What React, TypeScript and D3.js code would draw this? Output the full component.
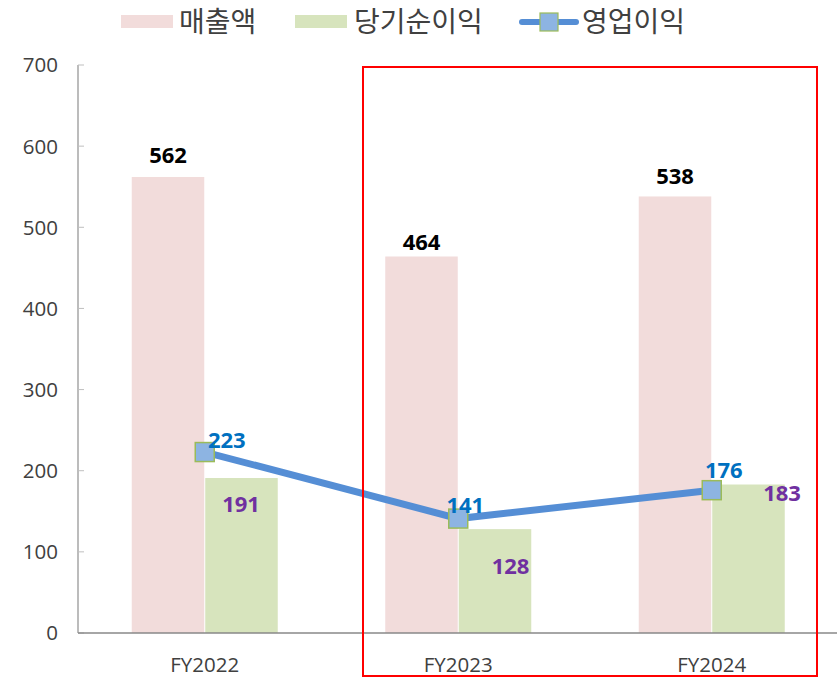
import React from "react";
import * as d3 from "d3";

const categories = ["FY2022", "FY2023", "FY2024"];
const sales = [562, 464, 538];
const netIncome = [191, 128, 183];
const opIncome = [223, 141, 176];
const yTicks = [0, 100, 200, 300, 400, 500, 600, 700];
const seriesNames = ["매출액", "당기순이익", "영업이익"];

// label offsets (px) relative to anchor points
const salesLabelOffsets = [-14, -6, -12];
const opLabelOffsets = [[22, -12], [7, -14], [12, -20]];
const netLabelOffsets = [[0, 26], [16, 37], [34, 9]];

const W = 837;
const H = 677;
const margin = { left: 78, right: -1.5, top: 65, bottom: 44 };
const FONT = "'Open Sans', 'Noto Sans CJK KR', sans-serif";
const KFONT = "'Noto Sans CJK KR', 'Noto Sans', sans-serif";

export default function App() {
  const x = d3.scaleBand<string>().domain(categories).range([margin.left, W - margin.right]).paddingInner(0).paddingOuter(0);
  const y = d3.scaleLinear().domain([0, 700]).range([H - margin.bottom, margin.top]);
  const bw = 72.5;
  const cx = (c: string) => (x(c) as number) + x.bandwidth() / 2;
  const line = d3.line<number>().x((_, i) => cx(categories[i])).y((d) => y(d));

  return (
    <svg width={W} height={H} style={{ position: "absolute", left: 0, top: 0, background: "#fff" }}>
      {/* bars */}
      {categories.map((c, i) => (
        <g key={c}>
          <rect x={cx(c) - bw - 0.5} y={y(sales[i])} width={bw} height={y(0) - y(sales[i])} fill="#F2DCDB" />
          <rect x={cx(c) + 0.5} y={y(netIncome[i])} width={bw} height={y(0) - y(netIncome[i])} fill="#D7E4BD" />
          <text x={cx(c) - bw / 2 - 0.5} y={y(sales[i]) + salesLabelOffsets[i]} textAnchor="middle" fontFamily={FONT} fontWeight={700} fontSize={22} fill="#000">{sales[i]}</text>
        </g>
      ))}
      {/* axes */}
      <line x1={margin.left} x2={margin.left} y1={y(700)} y2={y(0)} stroke="#A6A6A6" strokeWidth={1.5} />
      {yTicks.map((t) => (
        <g key={t}>
          <line x1={margin.left} x2={margin.left + 6} y1={y(t)} y2={y(t)} stroke="#BFBFBF" strokeWidth={1} />
          <text x={58} y={y(t)} dy="0.36em" textAnchor="end" fontFamily={FONT} fontSize={20.5} fill="#404040">{t}</text>
        </g>
      ))}
      <line x1={margin.left} x2={W} y1={y(0)} y2={y(0)} stroke="#888" strokeWidth={1.5} />
      {categories.map((c) => (
        <text key={c} x={cx(c)} y={672} textAnchor="middle" fontFamily={FONT} fontSize={20.5} fill="#404040">{c}</text>
      ))}
      {/* line */}
      <path d={line(opIncome) || ""} fill="none" stroke="#558ED5" strokeWidth={7} />
      {opIncome.map((v, i) => (
        <rect key={i} x={cx(categories[i]) - 9.5} y={y(v) - 9.5} width={19} height={19} fill="#8DB4E2" stroke="#9BBB59" strokeWidth={1.5} />
      ))}
      {netIncome.map((v, i) => (
        <text key={"n" + i} x={cx(categories[i]) + bw / 2 + netLabelOffsets[i][0]} y={y(v) + netLabelOffsets[i][1]} dy="0.36em" textAnchor="middle" fontFamily={FONT} fontWeight={700} fontSize={22} fill="#7030A0">{v}</text>
      ))}
      {opIncome.map((v, i) => (
        <text key={"o" + i} x={cx(categories[i]) + opLabelOffsets[i][0]} y={y(v) + opLabelOffsets[i][1]} dy="0.36em" textAnchor="middle" fontFamily={FONT} fontWeight={700} fontSize={22} fill="#0070C0">{v}</text>
      ))}
      {/* red box */}
      <rect x={363} y={67} width={454} height={609} fill="none" stroke="#FF0000" strokeWidth={2} />
      {/* legend */}
      <rect x={121} y={15} width={52} height={13} fill="#F2DCDB" />
      <text x={179} y={22} dy="0.37em" fontFamily={KFONT} fontSize={28} fill="#404040">{seriesNames[0]}</text>
      <rect x={295} y={15} width={52} height={13} fill="#D7E4BD" />
      <text x={354} y={22} dy="0.37em" fontFamily={KFONT} fontSize={28} fill="#404040">{seriesNames[1]}</text>
      <line x1={522} x2={576} y1={22} y2={22} stroke="#558ED5" strokeWidth={6} strokeLinecap="round" />
      <rect x={540} y={13} width={18} height={18} fill="#8DB4E2" stroke="#9BBB59" strokeWidth={1.2} />
      <text x={582} y={22} dy="0.37em" fontFamily={KFONT} fontSize={28} fill="#404040">{seriesNames[2]}</text>
    </svg>
  );
}
